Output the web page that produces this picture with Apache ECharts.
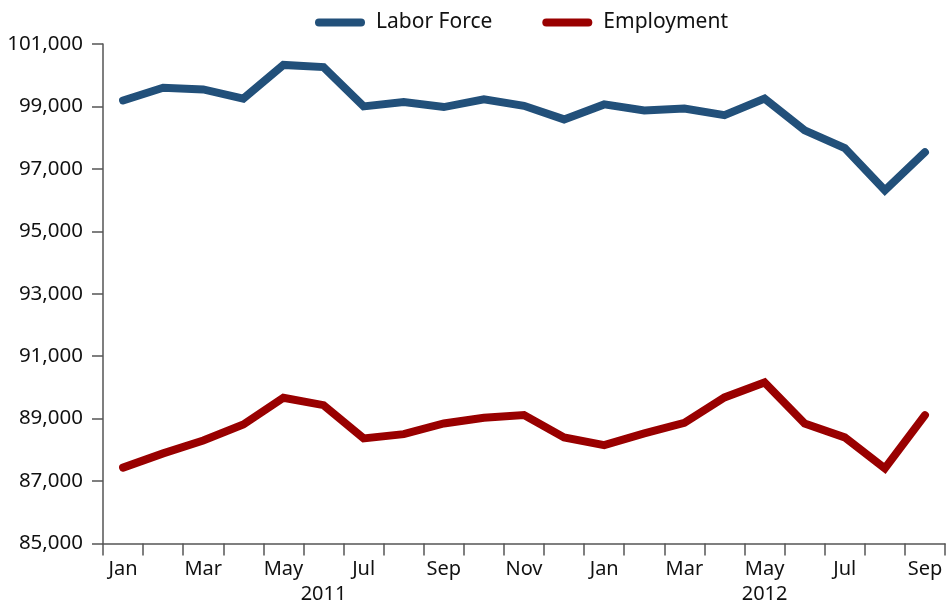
<!DOCTYPE html>
<html>
<head>
<meta charset="utf-8">
<script src="https://cdn.jsdelivr.net/npm/echarts@6/dist/echarts.min.js"></script>
<style>
  html, body { margin: 0; padding: 0; background: #fff; }
  #chart { width: 946px; height: 604px; }
</style>
</head>
<body>
<div id="chart"></div>
<script>
const months = ['Jan','Feb','Mar','Apr','May','Jun','Jul','Aug','Sep','Oct','Nov','Dec',
                'Jan','Feb','Mar','Apr','May','Jun','Jul','Aug','Sep'];
const years = { 5: '2011', 16: '2012' };
const laborForce = [99190, 99600, 99545, 99250, 100330, 100260, 99000, 99140, 98980, 99225, 99020, 98585,
                    99065, 98870, 98930, 98720, 99250, 98232, 97665, 96312, 97535];
const employment = [87430, 87886, 88300, 88810, 89670, 89432, 88366, 88504, 88846, 89026, 89112, 88398,
                    88152, 88526, 88866, 89678, 90158, 88846, 88398, 87406, 89112];
const yTicks = { min: 85000, max: 101000, interval: 2000 };

const BLUE = '#22507a';
const RED = '#990000';
const FONT = 'Noto Sans';

const chart = echarts.init(document.getElementById('chart'), null, { renderer: 'canvas' });
const capsule = 'path://M4,0 L46,0 A4,4 0 0 1 46,8 L4,8 A4,4 0 0 1 4,0 Z';

chart.setOption({
  animation: false,
  textStyle: { fontFamily: FONT },
  legend: {
    top: 7,
    left: 310,
    itemWidth: 50,
    itemHeight: 8,
    itemGap: 50,
    textStyle: { fontFamily: FONT, fontSize: 21, color: '#111', padding: [0, 0, 0, 6] },
    data: [
      { name: 'Labor Force', icon: capsule, itemStyle: { color: BLUE } },
      { name: 'Employment', icon: capsule, itemStyle: { color: RED } }
    ]
  },
  grid: { left: 103, right: 1, top: 44, bottom: 60.5, containLabel: false, outerBoundsMode: 'none' },
  xAxis: {
    type: 'category',
    data: months,
    boundaryGap: true,
    axisLine: { lineStyle: { color: '#555', width: 1.5 } },
    axisTick: { show: true, length: 12, interval: 0, alignWithLabel: false, lineStyle: { color: '#555', width: 1.5 } },
    axisLabel: {
      interval: 0,
      margin: 13,
      fontFamily: FONT,
      fontSize: 20,
      color: '#111',
      lineHeight: 25,
      formatter: function (v, i) {
        const m = (i % 2 === 0) ? v : '';
        if (years[i]) return m + '\n' + years[i];
        return m;
      }
    }
  },
  yAxis: {
    type: 'value',
    min: yTicks.min,
    max: yTicks.max,
    interval: yTicks.interval,
    splitLine: { show: false },
    axisLine: { show: true, lineStyle: { color: '#555', width: 1.5 } },
    axisTick: { show: true, length: 11, lineStyle: { color: '#555', width: 1.5 } },
    axisLabel: {
      margin: 20,
      fontFamily: FONT,
      fontSize: 20.5,
      color: '#111',
      formatter: function (v) { return v.toLocaleString('en-US'); }
    }
  },
  series: [
    {
      name: 'Labor Force', type: 'line', data: laborForce, symbol: 'none',
      lineStyle: { color: BLUE, width: 8, cap: 'round', join: 'miter' },
      itemStyle: { color: BLUE }
    },
    {
      name: 'Employment', type: 'line', data: employment, symbol: 'none',
      lineStyle: { color: RED, width: 8, cap: 'round', join: 'miter' },
      itemStyle: { color: RED }
    }
  ]
});
</script>
</body>
</html>
